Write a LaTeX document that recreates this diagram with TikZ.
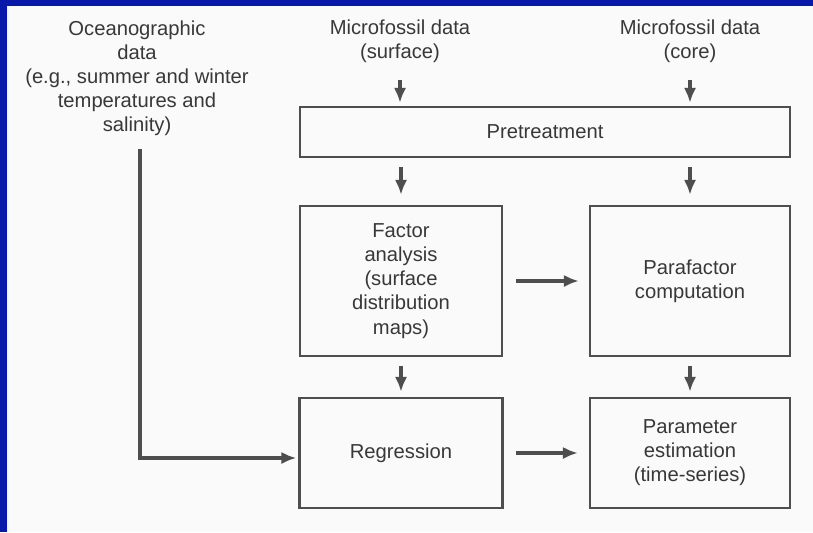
\documentclass[tikz,border=0pt]{standalone}
\usepackage{fontspec}
\setmainfont{Liberation Sans}
\usetikzlibrary{arrows.meta}
\definecolor{frameblue}{RGB}{8,24,168}
\definecolor{paper}{RGB}{250,250,250}
\definecolor{ink}{RGB}{56,56,56}
\definecolor{wire}{RGB}{78,78,78}
\begin{document}
\begin{tikzpicture}[x=0.02cm, y=-0.02cm, font=\fontsize{11.5}{13.7}\selectfont, text=ink,
	box/.style={draw=wire, line width=1.4pt, align=center, inner sep=0pt},
	txt/.style={align=center, inner sep=0pt},
	arr/.style={draw=wire, line width=1.9pt, -{Latex[length=8.5pt,width=7pt]}}]
	\fill[frameblue] (0,0) rectangle (813,532);
	\fill[paper] (7,6) rectangle (813,532);
	\useasboundingbox (0,0) rectangle (813,532);
	\node[txt] (ocean) at (137,78) {Oceanographic\\data\\(e.g., summer and winter\\temperatures and\\salinity)};
	\node[txt] (surf) at (400,41) {Microfossil data\\(surface)};
	\node[txt] (core) at (690,41) {Microfossil data\\(core)};
	\node[box, minimum width=9.8cm, minimum height=1cm] (pre) at (545,132) {Pretreatment};
	\node[box, minimum width=4.04cm, minimum height=3cm] (fac) at (401,281) {Factor\\analysis\\(surface\\distribution\\maps)};
	\node[box, minimum width=4cm, minimum height=3cm] (para) at (690,281) {Parafactor\\computation};
	\node[box, minimum width=4.06cm, minimum height=2.2cm] (reg) at (401,453) {Regression};
	\node[box, minimum width=4cm, minimum height=2.2cm] (param) at (690,453) {Parameter\\estimation\\(time-series)};
	\coordinate (bend) at (140,458);
	\draw[arr, shorten <=0.34cm, shorten >=0.06cm] (surf.south) -- (surf |- pre.north);
	\draw[arr, shorten <=0.34cm, shorten >=0.06cm] (core.south) -- (core |- pre.north);
	\draw[arr, shorten <=0.18cm, shorten >=0.2cm] (pre.south -| fac) -- (fac.north);
	\draw[arr, shorten <=0.18cm, shorten >=0.2cm] (pre.south -| para) -- (para.north);
	\draw[arr, shorten <=0.26cm, shorten >=0.2cm] (fac) -- (para);
	\draw[arr, shorten <=0.18cm, shorten >=0.1cm] (fac) -- (reg);
	\draw[arr, shorten <=0.18cm, shorten >=0.1cm] (para) -- (param);
	\draw[arr, shorten <=0.24cm, shorten >=0.22cm] (reg) -- (param);
	\draw[arr, shorten <=0.26cm, shorten >=0.04cm] (ocean.south -| bend) -- (bend) -- (bend -| reg.west);
\end{tikzpicture}
\end{document}
